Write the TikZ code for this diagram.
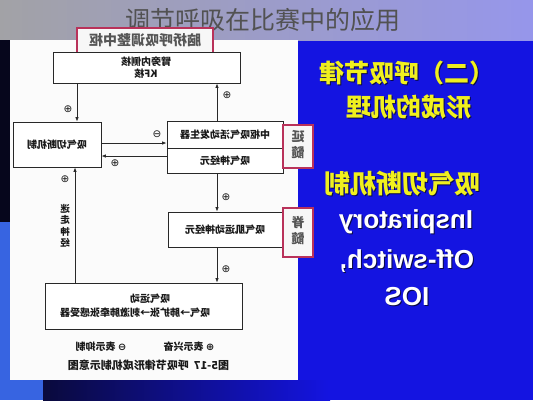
\documentclass[tikz,border=0pt]{standalone}
\usepackage{fontspec}
\usepackage{graphicx}
\newfontfamily\cjk{Noto Sans CJK SC}
\newfontfamily\sym{DejaVu Sans}
\newfontfamily\ars{Liberation Sans}
\usetikzlibrary{arrows.meta,calc}
\definecolor{bgblue}{RGB}{20,20,225}
\definecolor{figline}{RGB}{40,40,40}
\definecolor{figtext}{RGB}{25,25,25}
\definecolor{redb}{RGB}{185,50,90}
\definecolor{ytext}{RGB}{240,240,30}
\definecolor{labgray}{RGB}{85,85,85}
\definecolor{bandgray}{RGB}{162,162,166}
\definecolor{bandlav}{RGB}{150,150,235}
\definecolor{darkstrip}{RGB}{6,6,28}
\definecolor{lightblue}{RGB}{55,100,225}
\definecolor{navy}{RGB}{10,10,60}
\definecolor{shadowc}{RGB}{10,10,70}
\newcommand{\lines}[1]{\reflectbox{\begin{tabular}{@{}c@{}}#1\end{tabular}}}
\begin{document}
\begin{tikzpicture}[x=1pt,y=-1pt,
  figbox/.style={draw=figline, line width=0.8pt, fill=white, inner sep=0pt},
  figtxt/.style={font=\cjk\bfseries\fontsize{10}{12}\selectfont, text=figtext, inner sep=0pt},
  sg/.style={font=\sym\fontsize{10.5}{11}\selectfont, text=figtext, inner sep=0pt},
  arr/.style={draw=figline, line width=0.8pt, -{Latex[length=4.5pt,width=3.5pt]}},
  redbox/.style={draw=redb, line width=1.4pt, fill=white!94!gray, inner sep=0pt,
     font=\cjk\bfseries\fontsize{13}{16}\selectfont, text=labgray},
  ytxt/.style={text=ytext, inner sep=0pt, font=\cjk\bfseries\fontsize{25}{30}\selectfont},
  shd/.style={text=shadowc, inner sep=0pt, font=\cjk\bfseries\fontsize{25}{30}\selectfont},
  wtxt/.style={text=white, inner sep=0pt, font=\ars\bfseries\fontsize{26}{30}\selectfont},
  wshd/.style={text=shadowc, inner sep=0pt, font=\ars\bfseries\fontsize{26}{30}\selectfont}]
\useasboundingbox (0,0) rectangle (533,400);
% backgrounds
\fill[bgblue] (0,40) rectangle (533,400);
\shade[left color=bandgray, right color=bandlav] (0,0) rectangle (533,40);
\fill[darkstrip] (0,40) rectangle (10,222);
\fill[lightblue] (0,222) rectangle (10,400);
\fill[lightblue] (0,380) rectangle (43,400);
\shade[left color=navy, right color=bgblue] (43,380) rectangle (330,400);
\fill[white!97!gray] (10,40) rectangle (298,380);
% title
\node[font=\cjk\fontsize{25}{30}\selectfont, text=black!68, inner sep=0pt] (title) at (263,20) {调节呼吸在比赛中的应用};
% figure boxes
\node[redbox, minimum width=136pt, minimum height=25pt, font=\cjk\bfseries\fontsize{14}{16}\selectfont] (pons) at (145,40.5) {\reflectbox{脑桥呼吸调整中枢}};
\node[figbox, minimum width=187pt, minimum height=31pt] (kf) at (146.5,67.5) {};
\node[figtxt] (kft) at (146,69) {\lines{臂旁内侧核\\KF核}};
\node[figbox, minimum width=88pt, minimum height=45pt] (ios) at (57,144.5) {};
\node[figtxt] (iost) at (57,145) {\reflectbox{吸气切断机制}};
\node[figbox, minimum width=116pt, minimum height=27pt] (gen) at (225,134.5) {};
\node[figtxt] (gent) at (225,135) {\reflectbox{中枢吸气活动发生器}};
\node[figbox, minimum width=116pt, minimum height=25pt] (neu) at (225,160.5) {};
\node[figtxt] (neut) at (225,160.5) {\reflectbox{吸气神经元}};
\node[figbox, minimum width=115pt, minimum height=35pt] (mot) at (225.5,229.5) {};
\node[figtxt] (mott) at (225,230) {\reflectbox{吸气肌运动神经元}};
\node[figbox, minimum width=197pt, minimum height=46pt] (bot) at (143.5,306) {};
\node[figtxt] (bot1) at (150,299) {\reflectbox{吸气运动}};
\node[figtxt] (bot2) at (135,313) {\reflectbox{吸气→肺扩张→刺激肺牵张感受器}};
% side labels
\node[redbox, minimum width=30pt, minimum height=43pt] (yan) at (298,146.5) {\lines{延\\髓}};
\node[redbox, minimum width=30pt, minimum height=49pt] (ji) at (298,232.5) {\lines{脊\\髓}};
% connector guides
\coordinate (xA) at (77,0);
\coordinate (xB) at (217,0);
\coordinate (xE) at (75,0);
\coordinate (yC) at (0,143);
\coordinate (yD) at (0,156);
% connectors
\draw[arr] (kf.south -| xA) -- (ios.north -| xA);
\draw[arr] (gen.north -| xB) -- (kf.south -| xB);
\draw[arr] (ios.east |- yC) -- (gen.west |- yC);
\draw[arr] (neu.west |- yD) -- (ios.east |- yD);
\draw[arr] (neu.south -| xB) -- (mot.north -| xB);
\draw[arr] (mot.south -| xB) -- (bot.north -| xB);
\draw[arr] (bot.north -| xE) -- (ios.south -| xE);
% signs
\node[sg] (s1) at (68,109) {⊕};
\node[sg] (s2) at (227,95) {⊕};
\node[sg] (s3) at (157,134) {⊖};
\node[sg] (s4) at (115,163) {⊕};
\node[sg] (s5) at (226,197) {⊕};
\node[sg] (s6) at (226,269) {⊕};
\node[sg] (s7) at (65,179) {⊕};
\node[figtxt, font=\cjk\bfseries\fontsize{9.5}{11}\selectfont] (vag) at (65,227) {\lines{迷\\走\\神\\经}};
% legend and caption
\node[figtxt] (leg1) at (189,347) {\reflectbox{{\sym ⊕}\ 表示兴奋}};
\node[figtxt] (leg2) at (101,347) {\reflectbox{{\sym ⊖}\ 表示抑制}};
\node[figtxt, font=\cjk\bfseries\fontsize{11}{13}\selectfont] (cap) at (148.5,365) {\reflectbox{图5-17\ \ 呼吸节律形成机制示意图}};
% right-hand text
\node[shd] (t1s) at (408,74) {\reflectbox{（二）呼吸节律}};
\node[ytxt] (t1) at (407,73) {\reflectbox{（二）呼吸节律}};
\node[shd] (t2s) at (410,108) {\reflectbox{形成的机理}};
\node[ytxt] (t2) at (409,107) {\reflectbox{形成的机理}};
\node[shd, font=\cjk\bfseries\fontsize{26}{30}\selectfont] (t3s) at (403,185) {\reflectbox{吸气切断机制}};
\node[ytxt, font=\cjk\bfseries\fontsize{26}{30}\selectfont] (t3) at (402,184) {\reflectbox{吸气切断机制}};
\node[wshd, anchor=base] (e1s) at (407,229) {\reflectbox{Inspiratory}};
\node[wtxt, anchor=base] (e1) at (406,228) {\reflectbox{Inspiratory}};
\node[wshd, anchor=base] (e2s) at (408,269) {\reflectbox{Off-switch,}};
\node[wtxt, anchor=base] (e2) at (407,268) {\reflectbox{Off-switch,}};
\node[wshd, anchor=base] (e3s) at (408,306) {\reflectbox{IOS}};
\node[wtxt, anchor=base] (e3) at (407,305) {\reflectbox{IOS}};
\end{tikzpicture}
\end{document}
